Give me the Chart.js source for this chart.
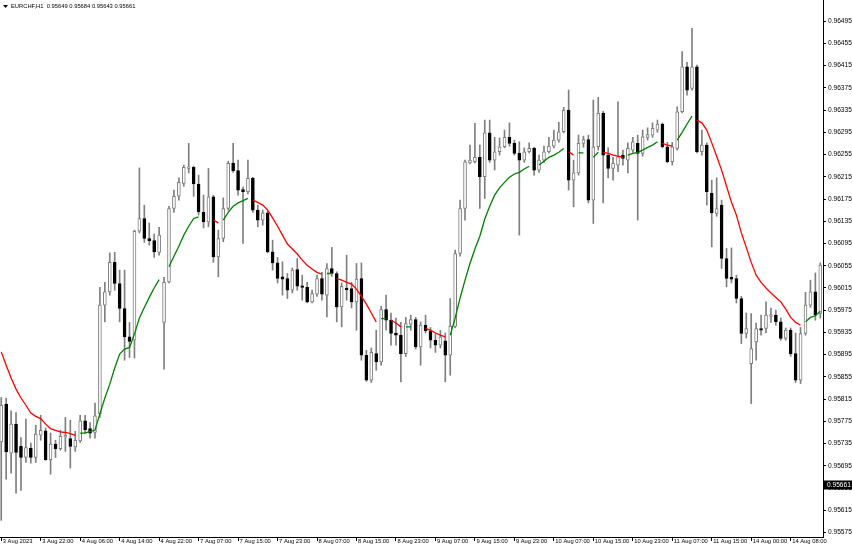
<!DOCTYPE html>
<html><head><meta charset="utf-8">
<script src="https://cdn.jsdelivr.net/npm/chart.js@4/dist/chart.umd.min.js"></script>
<style>html,body{margin:0;padding:0;background:#fff;overflow:hidden}#wrap{width:852px;height:547px}</style>
</head><body><div id="wrap"><canvas id="c" width="852" height="547"></canvas></div>
<script>
const symbolTitle = 'EURCHF,H1';
const titleQuote = ['0.95649', '0.95684', '0.95643', '0.95661'];
const lastPrice = 0.95661;

const tickLabels = ['3 Aug 2023','3 Aug 22:00','4 Aug 06:00','4 Aug 14:00','4 Aug 22:00','7 Aug 07:00','7 Aug 15:00','7 Aug 23:00','8 Aug 07:00','8 Aug 15:00','8 Aug 23:00','9 Aug 07:00','9 Aug 15:00','9 Aug 23:00','10 Aug 07:00','10 Aug 15:00','10 Aug 23:00','11 Aug 07:00','11 Aug 15:00','14 Aug 00:00','14 Aug 08:00'];
const barsPerTick = 8;

const priceTicks = [0.95575,0.95615,0.95655,0.95695,0.95735,0.95775,0.95815,0.95855,0.95895,0.95935,0.95975,0.96015,0.96055,0.96095,0.96135,0.96175,0.96215,0.96255,0.96295,0.96335,0.96375,0.96415,0.96455,0.96495];

const open = [
0.95738,0.95806,0.95718,0.95770,0.95730,0.95710,0.95727,0.95710,0.95750,0.95758,
0.95706,0.95734,0.95726,0.95747,0.95744,0.95729,0.95740,0.95776,0.95762,0.95755,
0.95789,0.95984,0.96008,0.96061,0.96023,0.95978,0.95927,0.95921,0.96117,0.96140,
0.96104,0.96100,0.96079,0.95953,0.96026,0.96158,0.96180,0.96203,0.96230,0.96232,
0.96202,0.96151,0.96134,0.96179,0.96071,0.96104,0.96158,0.96239,0.96226,0.96192,
0.96188,0.96212,0.96155,0.96137,0.96150,0.96080,0.96060,0.96035,0.96032,0.96011,
0.96048,0.96019,0.96016,0.95990,0.96004,0.96032,0.96002,0.96050,0.96041,0.95981,
0.96015,0.96014,0.95990,0.96032,0.95894,0.95849,0.95897,0.95882,0.95976,0.95957,
0.95934,0.95930,0.95897,0.95950,0.95958,0.95909,0.95948,0.95938,0.95921,0.95912,
0.95920,0.95894,0.95946,0.96077,0.96158,0.96240,0.96242,0.96250,0.96215,0.96294,
0.96245,0.96260,0.96269,0.96286,0.96275,0.96257,0.96245,0.96260,0.96266,0.96227,
0.96245,0.96260,0.96270,0.96281,0.96296,0.96335,0.96209,0.96222,0.96275,0.96282,
0.96173,0.96269,0.96329,0.96254,0.96230,0.96236,0.96254,0.96245,0.96263,0.96275,
0.96257,0.96286,0.96290,0.96299,0.96310,0.96269,0.96242,0.96266,0.96332,0.96413,
0.96374,0.96413,0.96260,0.96272,0.96185,0.96149,0.96164,0.96068,0.96034,0.96032,
0.95996,0.95933,0.95879,0.95918,0.95942,0.95942,0.95964,0.95966,0.95954,0.95924,
0.95939,0.95897,0.95849,0.95933,0.95984,0.96008,0.95969];

const high = [
0.95818,0.95817,0.95794,0.95791,0.95746,0.95779,0.95736,0.95768,0.95786,0.95763,
0.95754,0.95741,0.95759,0.95782,0.95777,0.95757,0.95786,0.95786,0.95773,0.95808,
0.96016,0.96025,0.96078,0.96079,0.96047,0.96047,0.95953,0.96119,0.96231,0.96164,
0.96132,0.96112,0.96124,0.96034,0.96162,0.96191,0.96213,0.96236,0.96275,0.96234,
0.96218,0.96182,0.96230,0.96182,0.96119,0.96177,0.96243,0.96275,0.96245,0.96197,
0.96245,0.96214,0.96164,0.96155,0.96153,0.96101,0.96070,0.96062,0.96041,0.96051,
0.96068,0.96038,0.96025,0.96011,0.96038,0.96043,0.96059,0.96088,0.96044,0.96024,
0.96074,0.96025,0.96059,0.96060,0.95903,0.95907,0.95939,0.95982,0.96002,0.95970,
0.95961,0.95953,0.95962,0.95966,0.95962,0.95954,0.95966,0.95944,0.95932,0.95939,
0.95934,0.95996,0.96083,0.96173,0.96245,0.96272,0.96311,0.96272,0.96317,0.96317,
0.96286,0.96285,0.96299,0.96312,0.96281,0.96278,0.96267,0.96276,0.96268,0.96254,
0.96270,0.96286,0.96299,0.96313,0.96340,0.96371,0.96245,0.96290,0.96288,0.96290,
0.96353,0.96358,0.96333,0.96267,0.96250,0.96350,0.96263,0.96276,0.96286,0.96290,
0.96299,0.96303,0.96312,0.96317,0.96312,0.96277,0.96277,0.96341,0.96440,0.96421,
0.96482,0.96416,0.96299,0.96276,0.96209,0.96213,0.96173,0.96086,0.96087,0.96038,
0.96000,0.95970,0.95969,0.95952,0.95966,0.95990,0.95979,0.95975,0.95961,0.95943,
0.95943,0.95934,0.95944,0.96007,0.96029,0.96042,0.96060];

const low = [
0.95597,0.95671,0.95682,0.95646,0.95651,0.95701,0.95700,0.95701,0.95741,0.95705,
0.95680,0.95710,0.95723,0.95721,0.95691,0.95721,0.95737,0.95754,0.95745,0.95745,
0.95782,0.95954,0.96002,0.96011,0.95954,0.95885,0.95890,0.95889,0.96114,0.96097,
0.96092,0.96070,0.96074,0.95869,0.96024,0.96151,0.96173,0.96198,0.96222,0.96180,
0.96146,0.96123,0.96125,0.96061,0.96035,0.96098,0.96155,0.96223,0.96182,0.96095,
0.96184,0.96151,0.96125,0.96128,0.96078,0.96047,0.96024,0.96002,0.95996,0.96006,
0.96011,0.95993,0.95988,0.95988,0.96000,0.95993,0.95963,0.96036,0.95954,0.95945,
0.95993,0.95979,0.95939,0.95885,0.95847,0.95845,0.95867,0.95876,0.95939,0.95912,
0.95912,0.95846,0.95892,0.95939,0.95905,0.95876,0.95934,0.95907,0.95899,0.95907,
0.95846,0.95858,0.95943,0.96072,0.96137,0.96238,0.96240,0.96158,0.96176,0.96241,
0.96227,0.96254,0.96267,0.96270,0.96254,0.96110,0.96241,0.96258,0.96218,0.96223,
0.96241,0.96258,0.96267,0.96277,0.96294,0.96191,0.96161,0.96218,0.96268,0.96168,
0.96131,0.96263,0.96168,0.96213,0.96209,0.96224,0.96236,0.96222,0.96259,0.96137,
0.96252,0.96281,0.96286,0.96295,0.96267,0.96240,0.96236,0.96263,0.96330,0.96362,
0.96371,0.96258,0.96254,0.96164,0.96089,0.96144,0.96050,0.96017,0.96024,0.95988,
0.95915,0.95925,0.95807,0.95885,0.95930,0.95934,0.95953,0.95948,0.95921,0.95921,
0.95892,0.95845,0.95843,0.95930,0.95980,0.95957,0.95961];

const close = [
0.95804,0.95720,0.95770,0.95719,0.95710,0.95728,0.95710,0.95752,0.95759,0.95706,
0.95734,0.95726,0.95748,0.95750,0.95730,0.95741,0.95776,0.95760,0.95754,0.95785,
0.95984,0.96008,0.96061,0.96023,0.95978,0.95927,0.95919,0.96117,0.96140,0.96104,
0.96100,0.96080,0.96110,0.96025,0.96158,0.96180,0.96205,0.96232,0.96233,0.96202,
0.96152,0.96134,0.96179,0.96071,0.96104,0.96158,0.96239,0.96226,0.96191,0.96188,
0.96212,0.96155,0.96137,0.96150,0.96080,0.96060,0.96032,0.96031,0.96011,0.96047,
0.96018,0.96016,0.95990,0.96005,0.96032,0.96004,0.96050,0.96041,0.95981,0.96018,
0.96012,0.95990,0.96031,0.95894,0.95849,0.95899,0.95882,0.95976,0.95957,0.95933,
0.95930,0.95897,0.95951,0.95958,0.95909,0.95948,0.95938,0.95921,0.95912,0.95927,
0.95894,0.95946,0.96077,0.96158,0.96242,0.96245,0.96250,0.96215,0.96294,0.96245,
0.96260,0.96269,0.96286,0.96275,0.96257,0.96245,0.96260,0.96266,0.96227,0.96245,
0.96260,0.96270,0.96281,0.96296,0.96335,0.96209,0.96222,0.96275,0.96282,0.96173,
0.96269,0.96329,0.96254,0.96230,0.96239,0.96251,0.96248,0.96266,0.96278,0.96257,
0.96287,0.96291,0.96302,0.96310,0.96269,0.96242,0.96269,0.96332,0.96413,0.96371,
0.96413,0.96260,0.96272,0.96188,0.96150,0.96158,0.96068,0.96032,0.96031,0.95996,
0.95933,0.95942,0.95906,0.95942,0.95939,0.95966,0.95967,0.95954,0.95924,0.95939,
0.95897,0.95849,0.95933,0.95984,0.96008,0.95966,0.96056];

// moving average, rising part (green)
const maRising = [
null,null,null,null,null,null,null,null,null,null,
null,null,null,null,null,null,0.95754,0.95754,0.95757,0.95759,
0.95789,0.95817,0.95842,0.95871,0.95896,0.95905,0.95908,0.95932,0.95961,0.95980,
0.95998,0.96015,0.96030,null,0.96053,0.96072,0.96090,0.96110,0.96126,0.96140,
0.96143,null,null,null,null,0.96137,0.96151,0.96162,0.96168,0.96172,
0.96176,null,null,null,null,null,null,null,null,null,
null,null,null,null,null,null,0.96041,0.96041,null,null,
null,null,null,null,null,null,null,0.95960,0.95960,null,
null,null,0.95945,0.95945,null,null,null,null,null,null,
null,0.95930,0.95961,0.95997,0.96029,0.96059,0.96085,0.96108,0.96139,0.96162,
0.96182,0.96195,0.96205,0.96214,0.96220,0.96223,0.96229,0.96234,null,0.96236,
0.96243,0.96250,0.96254,0.96259,0.96266,null,null,0.96258,0.96258,null,
0.96250,0.96259,null,null,null,null,null,0.96254,0.96257,0.96259,
0.96263,0.96268,0.96272,0.96278,null,null,null,0.96281,0.96295,0.96310,
0.96324,null,null,null,null,null,null,null,null,null,
null,null,null,null,null,null,null,null,null,null,
null,null,null,0.95954,0.95962,0.95965,0.95973];

// moving average, falling part (red)
const maFalling = [
0.95900,0.95876,0.95853,0.95833,0.95817,0.95804,0.95790,0.95784,0.95780,0.95770,
0.95762,0.95759,0.95756,0.95755,0.95753,0.95750,null,null,null,null,
null,null,null,null,null,null,null,null,null,null,
null,null,null,null,null,null,null,null,null,null,
null,null,null,0.96137,0.96132,null,null,null,null,null,
null,0.96173,0.96169,0.96164,0.96155,0.96141,0.96126,0.96110,0.96094,0.96085,
0.96076,0.96065,0.96056,0.96049,0.96043,0.96040,null,null,0.96032,0.96029,
0.96025,0.96022,0.96013,0.96000,0.95986,0.95970,0.95954,null,null,0.95957,
0.95952,0.95945,null,null,null,null,0.95942,0.95939,0.95934,0.95930,
0.95927,null,null,null,null,null,null,null,null,null,
null,null,null,null,null,null,null,null,null,null,
null,null,null,null,null,0.96260,0.96254,null,null,null,
null,null,0.96259,0.96257,0.96254,0.96252,0.96250,null,null,null,
null,null,null,null,0.96275,0.96272,0.96270,null,null,null,
null,0.96317,0.96312,0.96299,0.96276,0.96252,0.96227,0.96198,0.96169,0.96146,
0.96114,0.96088,0.96061,0.96038,0.96025,0.96015,0.96006,0.95998,0.95990,0.95977,
0.95962,0.95953,0.95948,null,null,null,null];

// hourly bar times (weekend skipped)
const MONTHS = ['Jan','Feb','Mar','Apr','May','Jun','Jul','Aug','Sep','Oct','Nov','Dec'];
const categories = [];
(function(){
  let t = Date.UTC(2023, 7, 3, 14);
  while (categories.length < open.length) {
    const d = new Date(t), wd = d.getUTCDay(), h = d.getUTCHours();
    if (!(wd === 6 || wd === 0 || (wd === 5 && h > 22))) {
      categories.push(d.getUTCDate() + ' ' + MONTHS[d.getUTCMonth()] + ' ' + String(h).padStart(2,'0') + ':00');
    }
    t += 3600000;
  }
})();

const idx = categories.map((_, i) => i);
const wickData = idx.map(i => ({x: i, y: [low[i], high[i]]}));
const bodyData = idx.map(i => ({x: i, y: [open[i], close[i]]}));
const riseData = idx.map(i => ({x: i, y: maRising[i]}));
const fallData = idx.map(i => ({x: i, y: maFalling[i]}));
const isBull = i => close[i] >= open[i];

const FAMILY = '"Liberation Sans", Arial, sans-serif';

const overlay = {
  id: 'overlay',
  afterDraw(chart) {
    const c = chart.ctx;
    c.save();
    c.fillStyle = '#000';
    c.beginPath(); c.moveTo(3, 5); c.lineTo(8, 5); c.lineTo(5.5, 8); c.closePath(); c.fill();
    c.font = '5.8px ' + FAMILY;
    c.textBaseline = 'middle';
    c.textAlign = 'left';
    c.fillText(symbolTitle + '  ' + titleQuote.join(' '), 11, 6.5);
    const ys = chart.scales.y;
    const py = Math.round(ys.getPixelForValue(lastPrice));
    c.fillRect(ys.left + 1, py - 4.5, 28, 9);
    c.fillStyle = '#fff';
    c.font = '6.6px ' + FAMILY;
    c.fillText(lastPrice.toFixed(5), ys.left + 4, py);
    c.restore();
  }
};

new Chart(document.getElementById('c'), {
  type: 'bar',
  data: {
    datasets: [
      {type: 'line', data: riseData, borderColor: '#008000', borderWidth: 1.3, pointRadius: 0, spanGaps: false, tension: 0, order: 1},
      {type: 'line', data: fallData, borderColor: '#ff0000', borderWidth: 1.3, pointRadius: 0, spanGaps: false, tension: 0, order: 1},
      {data: bodyData, grouped: false, barThickness: 3, minBarLength: 1, borderSkipped: false, borderWidth: 1, order: 2,
        backgroundColor: ctx => isBull(ctx.dataIndex) ? '#ffffff' : '#000000',
        borderColor: ctx => isBull(ctx.dataIndex) ? '#7f7f7f' : '#000000'},
      {data: wickData, grouped: false, barThickness: 1, borderWidth: 0, backgroundColor: '#7f7f7f', order: 3}
    ]
  },
  options: {
    responsive: false, animation: false, devicePixelRatio: 1,
    layout: {padding: 0},
    plugins: {legend: {display: false}, tooltip: {enabled: false}, title: {display: false}},
    scales: {
      x: {
        type: 'linear', min: -0.25, max: 166.55, offset: false,
        afterBuildTicks: s => { s.ticks = tickLabels.map((_, k) => ({value: k * barsPerTick})); },
        afterFit: s => { s.height = 10; s.paddingLeft = 0; s.paddingRight = 0; },
        grid: {offset: false, drawOnChartArea: false, drawTicks: true, tickLength: 4, color: '#000'},
        border: {display: true, color: '#000', width: 1},
        ticks: {autoSkip: false, maxRotation: 0, minRotation: 0, align: 'start', padding: -3, labelOffset: 1.5,
          font: {family: FAMILY, size: 5.8}, color: '#000', callback: v => tickLabels[Math.round(v / barsPerTick)]}
      },
      y: {
        position: 'right', min: 0.95567, max: 0.96533,
        afterBuildTicks: s => { s.ticks = priceTicks.map(v => ({value: v})); },
        afterFit: s => { s.width = 29; s.paddingTop = 0; s.paddingBottom = 0; },
        grid: {offset: false, drawOnChartArea: false, drawTicks: true, tickLength: 3, color: '#000'},
        border: {display: true, color: '#000', width: 1},
        ticks: {autoSkip: false, padding: 2, font: {family: FAMILY, size: 6.6}, color: '#000', callback: v => Number(v).toFixed(5)}
      }
    }
  },
  plugins: [overlay]
});
</script></body></html>
